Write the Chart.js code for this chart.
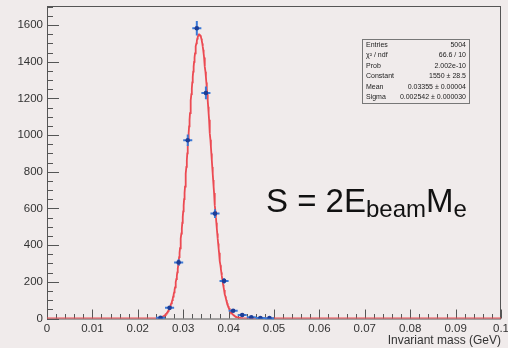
<!DOCTYPE html>
<html>
<head>
<meta charset="utf-8">
<script src="https://cdn.jsdelivr.net/npm/chart.js@4.4.0/dist/chart.umd.min.js"></script>
<style>
html, body { margin: 0; padding: 0; background: #f0ebeb; }
canvas { display: block; }
</style>
</head>
<body>
<canvas id="massChart" width="508" height="348"></canvas>
<script>
// histogram bins: centre (GeV) and entries, bin width 0.002
const binCenters = [0.025, 0.027, 0.029, 0.031, 0.033, 0.035, 0.037, 0.039, 0.041, 0.043, 0.045, 0.047, 0.049];
const binCounts  = [4, 58, 306, 972, 1583, 1230, 572, 205, 42, 19, 7, 3, 2];
const binHalfWidth = 0.001;

// gaussian fit parameters
const fitConstant = 1550;
const fitMean = 0.03355;
const fitSigma = 0.002542;

const xMin = 0, xMax = 0.1;
const yMin = 0, yMax = 1704;

const statsRows = [
    ['Entries', '5004'],
    ['\u03c7\u00b2 / ndf', '66.6 / 10'],
    ['Prob', '2.002e-10'],
    ['Constant', '1550 \u00b1 28.5'],
    ['Mean', '0.03355 \u00b1 0.00004'],
    ['Sigma', '0.002542 \u00b1 0.000030']
];

// formula pieces: [text, subscript?]
const formulaParts = [['S = 2E', false], ['beam', true], ['M', false], ['e', true]];

const FONT = 'Liberation Sans, Arial, Helvetica, sans-serif';
const ctx = document.getElementById('massChart');

const histPoints = binCenters.map((c, i) => ({ x: c, y: binCounts[i] }));

// evaluate the fitted gaussian across the whole axis
const fitCurve = [];
for (let i = 0; i <= 1000; i++) {
    const x = xMin + (xMax - xMin) * i / 1000;
    fitCurve.push({ x: x, y: fitConstant * Math.exp(-0.5 * Math.pow((x - fitMean) / fitSigma, 2)) });
}

const rootStyle = {
    id: 'rootStyle',
    beforeDraw(chart) {
        const c = chart.ctx;
        c.save();
        c.fillStyle = '#f0ebeb';
        c.fillRect(0, 0, chart.width, chart.height);
        c.restore();
    },
    beforeDatasetsDraw(chart) {
        const c = chart.ctx;
        const a = chart.chartArea;
        const xs = chart.scales.x, ys = chart.scales.y;
        c.save();
        c.strokeStyle = '#555';
        c.lineWidth = 1;
        c.strokeRect(a.left + 0.5, a.top + 0.5, a.right - a.left - 1, a.bottom - a.top);
        c.beginPath();
        // x ticks, pointing into the frame
        for (let i = 0; i <= 50; i++) {
            const px = Math.round(xs.getPixelForValue(i * 0.002)) + 0.5;
            const len = i % 5 === 0 ? 9 : 4.5;
            c.moveTo(px, a.bottom);
            c.lineTo(px, a.bottom - len);
        }
        // y ticks
        for (let i = 0; i <= 34; i++) {
            const py = Math.round(ys.getPixelForValue(i * 50)) + 0.5;
            const len = i % 4 === 0 ? 12 : 6;
            c.moveTo(a.left, py);
            c.lineTo(a.left + len, py);
        }
        c.stroke();
        c.restore();
    },
    afterDatasetDraw(chart, args) {
        if (args.index !== 1) return;
        // error bars go between the fit curve and the markers
        const c = chart.ctx;
        const xs = chart.scales.x, ys = chart.scales.y;
        c.save();
        c.strokeStyle = '#3a78d6';
        c.lineWidth = 2;
        c.beginPath();
        binCenters.forEach((cx, i) => {
            const n = binCounts[i];
            const err = Math.sqrt(n);
            const px = xs.getPixelForValue(cx);
            const py = ys.getPixelForValue(n);
            c.moveTo(xs.getPixelForValue(cx - binHalfWidth), py);
            c.lineTo(xs.getPixelForValue(cx + binHalfWidth), py);
            c.moveTo(px, ys.getPixelForValue(Math.max(0, n - err)));
            c.lineTo(px, ys.getPixelForValue(n + err));
        });
        c.stroke();
        c.restore();
    },
    afterDraw(chart) {
        const c = chart.ctx;
        c.save();
        // stats box
        c.strokeStyle = '#777';
        c.lineWidth = 1;
        c.strokeRect(362.5, 39.5, 107, 64);
        c.fillStyle = '#222';
        c.font = '7px ' + FONT;
        c.textBaseline = 'middle';
        statsRows.forEach((row, i) => {
            const y = 45 + i * 10.45;
            c.textAlign = 'left';
            c.fillText(row[0], 366, y);
            c.textAlign = 'right';
            c.fillText(row[1], 466, y);
        });
        // S = 2 E_beam M_e
        c.fillStyle = '#111';
        c.textAlign = 'left';
        c.textBaseline = 'alphabetic';
        let x = 266;
        formulaParts.forEach(([txt, sub]) => {
            c.font = (sub ? 24 : 33) + 'px ' + FONT;
            c.fillText(txt, x, sub ? 217 : 212);
            x += c.measureText(txt).width;
        });
        c.restore();
    }
};

new Chart(ctx, {
    type: 'scatter',
    data: {
        datasets: [{
            label: 'data',
            data: histPoints,
            order: 1,
            pointRadius: 2.3,
            pointBackgroundColor: '#1d3d96',
            pointBorderWidth: 0
        }, {
            label: 'gaus',
            type: 'line',
            data: fitCurve,
            order: 2,
            borderColor: '#ec4a52',
            borderWidth: 1.8,
            pointRadius: 0,
            tension: 0,
            fill: false
        }]
    },
    options: {
        responsive: false,
        animation: false,
        layout: { padding: { top: 6, right: 7, left: 0, bottom: 0 } },
        plugins: { legend: { display: false }, tooltip: { enabled: false } },
        scales: {
            x: {
                type: 'linear',
                min: xMin,
                max: xMax,
                grid: { display: false, drawTicks: false },
                border: { display: false },
                ticks: {
                    stepSize: 0.01,
                    autoSkip: false,
                    maxRotation: 0,
                    padding: 3,
                    color: '#333',
                    font: { family: FONT, size: 11.5 },
                    callback: v => (v === 0 ? '0' : String(+v.toFixed(2)))
                },
                title: {
                    display: true,
                    text: 'Invariant mass (GeV)',
                    align: 'end',
                    color: '#333',
                    padding: { top: 0, bottom: 0 },
                    font: { family: FONT, size: 12 }
                },
                afterFit: s => { s.height = 29.5; s.paddingLeft = 0; s.paddingRight = 0; }
            },
            y: {
                min: yMin,
                max: yMax,
                grid: { display: false, drawTicks: false },
                border: { display: false },
                ticks: {
                    stepSize: 200,
                    padding: 4,
                    color: '#333',
                    font: { family: FONT, size: 11.5 },
                    callback: v => (v % 200 === 0 ? String(v) : null)
                },
                afterFit: s => { s.width = 47; s.paddingTop = 0; s.paddingBottom = 0; }
            }
        }
    },
    plugins: [rootStyle]
});
</script>
</body>
</html>
